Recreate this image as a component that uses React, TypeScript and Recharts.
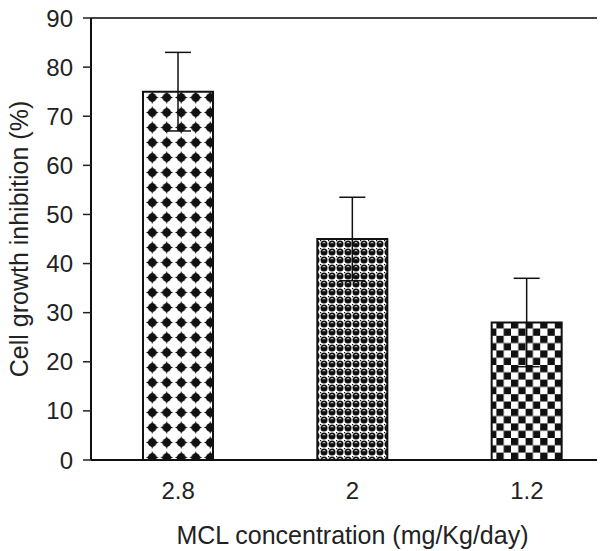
import { Bar, BarChart, Cell, ErrorBar, ReferenceLine, XAxis, YAxis } from "recharts";

const doses = ["2.8", "2", "1.2"];
const inhibition = [75, 45, 28];
const errors = [8, 8.5, 9];
const yTicks = [0, 10, 20, 30, 40, 50, 60, 70, 80, 90];
const edgeTicks = [0, 1, 2, 3];
const patterns = ["url(#diamonds)", "url(#circles)", "url(#checker)"];

const FONT = "'Liberation Sans', Arial, sans-serif";

const data = doses.map((dose, i) => ({
  dose,
  value: inhibition[i],
  err: errors[i],
}));

function YTitle({ viewBox }: any) {
  const x = viewBox.x + 19;
  const y = viewBox.y + viewBox.height / 2;
  return (
    <text
      x={x}
      y={y}
      transform={`rotate(-90 ${x} ${y})`}
      textAnchor="middle"
      dominantBaseline="central"
      fontFamily={FONT}
      fontSize={25}
      fill="#222"
    >
      Cell growth inhibition (%)
    </text>
  );
}

function XTitle({ viewBox }: any) {
  return (
    <text
      x={viewBox.x + viewBox.width / 2}
      y={viewBox.y + 84}
      textAnchor="middle"
      fontFamily={FONT}
      fontSize={25}
      fill="#222"
    >
      MCL concentration (mg/Kg/day)
    </text>
  );
}

export default function App() {
  // the plot area runs past the right edge of the picture, so the svg is clipped
  return (
    <div style={{ margin: "-8px 0 0 -8px", width: 605, height: 551, overflow: "hidden" }}>
      <BarChart
        width={630}
        height={551}
        data={data}
        margin={{ top: 18, right: 16, left: 0, bottom: 0 }}
      >
        <defs>
          <pattern id="diamonds" patternUnits="userSpaceOnUse" width={14.5} height={15}>
            <rect width={14.5} height={15} fill="#fff" />
            <path d="M7.25 1 Q8.6 6.1 13.6 7.5 Q8.6 8.9 7.25 14 Q5.9 8.9 0.9 7.5 Q5.9 6.1 7.25 1 Z" fill="#111" />
            <circle cx={7.25} cy={7.5} r={4.3} fill="#111" />
          </pattern>
          <pattern id="circles" patternUnits="userSpaceOnUse" width={8} height={8}>
            <rect width={8} height={8} fill="#fff" />
            <circle cx={4} cy={4} r={3.5} fill="#111" />
            <path d="M2.6 3 Q4 1.8 5.4 3" stroke="#fff" strokeWidth={0.8} fill="none" />
            <rect x={0} y={0} width={1.2} height={1.2} fill="#111" />
          </pattern>
          <pattern id="checker" patternUnits="userSpaceOnUse" width={14.6} height={14.6}>
            <rect width={14.6} height={14.6} fill="#fff" />
            <rect x={0} y={0} width={7.3} height={7.3} fill="#111" />
            <rect x={7.3} y={7.3} width={7.3} height={7.3} fill="#111" />
          </pattern>
        </defs>
        <XAxis
          xAxisId="edge"
          type="number"
          domain={[0, 3]}
          ticks={edgeTicks}
          interval={0}
          allowDataOverflow
          height={0}
          axisLine={false}
          tick={false}
          tickSize={9}
          tickLine={{ stroke: "#555", strokeWidth: 1.5 }}
        />
        <XAxis
          dataKey="dose"
          height={91}
          axisLine={{ stroke: "#111", strokeWidth: 2 }}
          tickLine={false}
          tickSize={0}
          tickMargin={22}
          tick={{ fill: "#222", fontSize: 24, fontFamily: FONT }}
          label={<XTitle />}
        />
        <YAxis
          width={91}
          domain={[0, 90]}
          ticks={yTicks}
          interval={0}
          axisLine={{ stroke: "#111", strokeWidth: 2 }}
          tickLine={{ stroke: "#222", strokeWidth: 1.5 }}
          tickSize={8}
          tickMargin={10}
          tick={{ fill: "#222", fontSize: 24, fontFamily: FONT }}
          label={<YTitle />}
        />
        <ReferenceLine y={90} stroke="#444" strokeWidth={2} />
        <Bar dataKey="value" barSize={70} stroke="#111" strokeWidth={2} isAnimationActive={false}>
          {data.map((row, i) => (
            <Cell key={row.dose} fill={patterns[i]} />
          ))}
          <ErrorBar dataKey="err" width={13} stroke="#111" strokeWidth={1.5} direction="y" />
        </Bar>
      </BarChart>
    </div>
  );
}
